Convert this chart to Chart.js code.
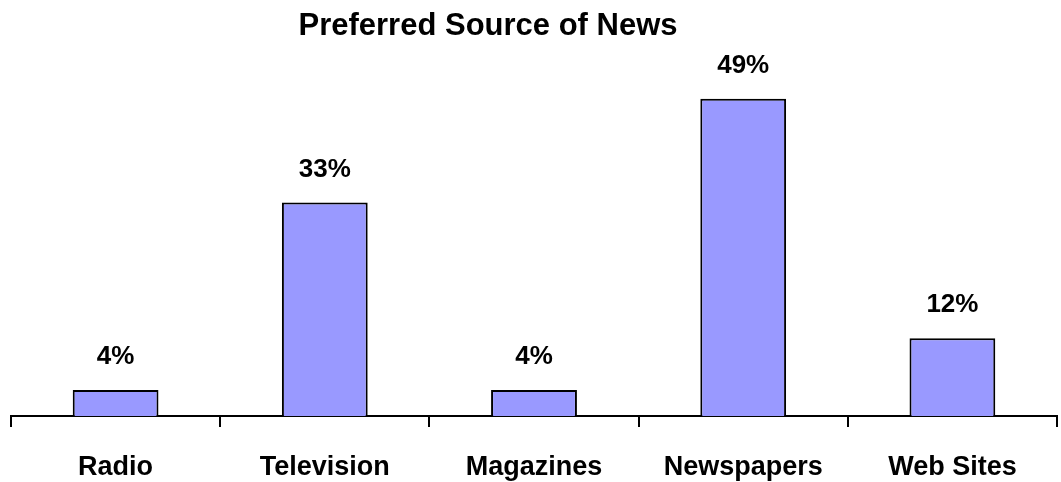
<!DOCTYPE html>
<html>
<head>
<meta charset="utf-8">
<script src="https://cdn.jsdelivr.net/npm/chart.js@4"></script>
<style>
  html, body { margin: 0; padding: 0; background: #fff; }
  #wrap { width: 1061px; height: 482px; position: relative; }
</style>
</head>
<body>
<div id="wrap"><canvas id="myChart"></canvas></div>
<script>
const categories = ['Radio', 'Television', 'Magazines', 'Newspapers', 'Web Sites'];
const shares = [4, 33, 4, 49, 12];
const valueLabels = ['4%', '33%', '4%', '49%', '12%'];
const chartTitle = 'Preferred Source of News';

const FONT = '"Liberation Sans", Arial, sans-serif';

// title (sits a bit left of centre in the original) and the % above each bar
const barLabels = {
    id: 'barLabels',
    afterDatasetsDraw(chart) {
        const ctx = chart.ctx;
        const meta = chart.getDatasetMeta(0);
        ctx.save();
        ctx.fillStyle = '#000';
        ctx.textAlign = 'center';
        ctx.textBaseline = 'middle';
        ctx.font = 'bold 31px ' + FONT;
        ctx.fillText(chartTitle, 488, 26);
        ctx.font = 'bold 26px ' + FONT;
        meta.data.forEach((bar, i) => {
            ctx.fillText(valueLabels[i], bar.x, bar.y - 33);
        });
        ctx.restore();
    }
};

const ctx = document.getElementById('myChart').getContext('2d');
new Chart(ctx, {
    type: 'bar',
    data: {
        labels: categories,
        datasets: [{
            label: chartTitle,
            data: shares,
            backgroundColor: '#9999FF',
            borderColor: '#000',
            borderWidth: 2,
            categoryPercentage: 1,
            barPercentage: 0.41
        }]
    },
    options: {
        responsive: true,
        maintainAspectRatio: false,
        animation: false,
        layout: { padding: { left: 11, right: 4, top: 60, bottom: 0 } },
        plugins: {
            legend: { display: false },
            tooltip: { enabled: false },
            title: { display: false }
        },
        scales: {
            x: {
                afterFit(scale) { scale.height = 66; },
                grid: {
                    offset: true,
                    drawOnChartArea: false,
                    drawTicks: true,
                    tickLength: 11,
                    color: '#000',
                    lineWidth: 2
                },
                border: { display: true, color: '#000', width: 2 },
                ticks: {
                    color: '#000',
                    padding: 24,
                    font: { family: FONT, size: 27, weight: 'bold' }
                }
            },
            y: {
                display: false,
                min: 0,
                max: 55
            }
        }
    },
    plugins: [barLabels]
});
</script>
</body>
</html>
